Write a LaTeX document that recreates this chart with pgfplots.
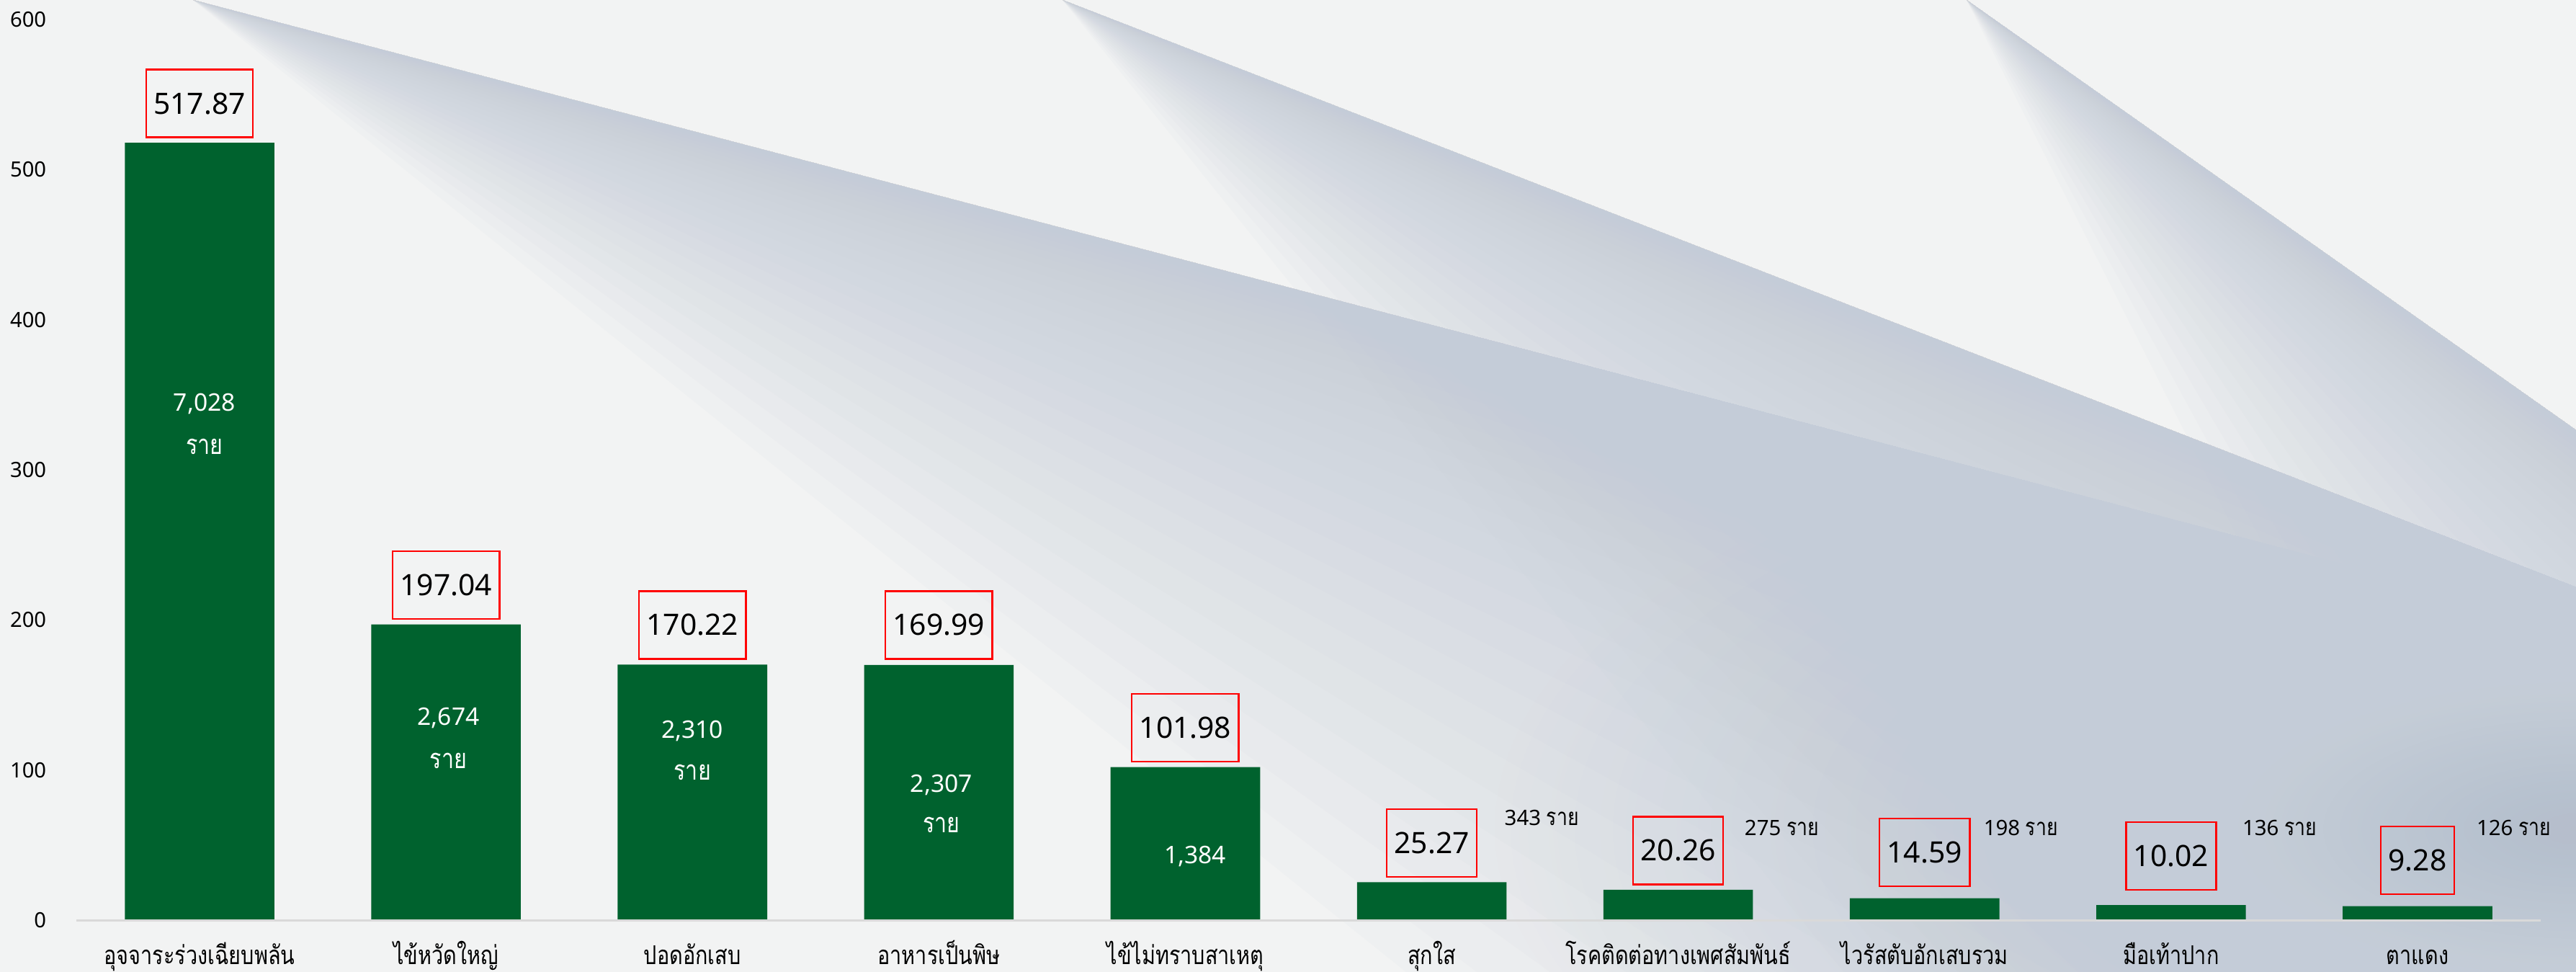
\documentclass[border=0pt]{standalone}
\usepackage{fontspec}
\setmainfont{Noto Sans}
\newfontfamily\thaic[Script=Thai,FakeStretch=0.8]{Loma}
\usepackage{pgfplots}
\pgfplotsset{compat=1.18}
\usetikzlibrary{fadings}

\definecolor{bgc}{HTML}{F2F3F3}
\definecolor{beam}{HTML}{C4CCD8}
\definecolor{deep}{HTML}{A2B0C2}
\definecolor{barc}{RGB}{0,98,46}
\definecolor{basec}{HTML}{D9D9D9}
\tikzfading[name=glow, inner color=transparent!0, outer color=transparent!100]

\begin{document}
\begin{tikzpicture}
% background, in pixel units of the reference (origin top left)
\begin{scope}[x=0.25pt,y=-0.25pt]
  \clip (0,0) rectangle (3576,1349);
  \fill[bgc] (0,0) rectangle (3576,1349);
  % dark corner below the first beam edge
  \begin{scope}
    \clip (268,0) -- (4000,979) -- (4000,1400) -- (-10,1400) -- (-10,0) -- cycle;
    \fill[deep, path fading=glow, opacity=0.8] (3576,1150) ellipse [x radius=1500, y radius=650];
  \end{scope}
  % three light beams: sharp edge, soft fade below it
  \foreach \k in {1,...,30}{
    \pgfmathsetmacro\a{14.7+24*(\k/30)^2}
    \fill[beam, opacity=0.065] (268,0) -- +(14.7:6000) -- +(\a:6000) -- cycle;
    \pgfmathsetmacro\b{21.2+30*(\k/30)^2}
    \fill[beam, opacity=0.065] (1475,0) -- +(21.2:6000) -- +(\b:6000) -- cycle;
    \pgfmathsetmacro\c{35.2+28*(\k/30)^2}
    \fill[beam, opacity=0.065] (2730,0) -- +(35.2:6000) -- +(\c:6000) -- cycle;
  }
\end{scope}

\begin{axis}[
    at={(26.5pt,-319.25pt)}, anchor=south west,
    scale only axis, width=855.25pt, height=312.5pt,
    xmin=-0.5, xmax=9.5, ymin=0, ymax=600,
    axis line style={draw=none},
    major tick length=0pt,
    ytick={0,100,...,600},
    xtick={0,...,9},
    xticklabels={อุจจาระร่วงเฉียบพลัน,ไข้หวัดใหญ่,ปอดอักเสบ,อาหารเป็นพิษ,ไข้ไม่ทราบสาเหตุ,สุกใส,โรคติดต่อทางเพศสัมพันธ์,ไวรัสตับอักเสบรวม,มือเท้าปาก,ตาแดง},
    /pgf/number format/assume math mode=true,
    yticklabel style={font=\fontsize{7.3}{8}\selectfont, anchor=east, inner sep=0pt, xshift=-10.25pt},
    xticklabel style={font=\thaic\fontsize{9}{10}\selectfont, anchor=base, inner sep=0pt, yshift=-15.25pt},
    clip=false,
]
\addplot[ybar, bar width=51.9pt, fill=barc, draw=none] coordinates {
 (0,517.87) (1,197.04) (2,170.22) (3,169.99) (4,101.98)
 (5,25.27) (6,20.26) (7,14.59) (8,10.02) (9,9.28)
};
\draw[basec, line width=0.75pt] (axis cs:-0.5,0) -- (axis cs:9.5,0);

% boxed values
\tikzset{vbox/.style={draw=red, line width=0.6pt, inner xsep=2.6pt, minimum height=23.5pt, anchor=south, font=\fontsize{10.2}{12}\selectfont}}
\node[vbox] at (axis cs:0,520.9) {517.87};
\node[vbox] at (axis cs:1,200.2) {197.04};
\node[vbox] at (axis cs:2,173.5) {170.22};
\node[vbox] at (axis cs:3,173.5) {169.99};
\node[vbox] at (axis cs:4,105.1) {101.98};
\node[vbox] at (axis cs:5,28.3) {25.27};
\node[vbox] at (axis cs:6,23.2) {20.26};
\node[vbox] at (axis cs:7,22.1) {14.59};
\node[vbox] at (axis cs:8,19.7) {10.02};
\node[vbox] at (axis cs:9,16.8) {9.28};

% case counts inside bars
\tikzset{wnum/.style={text=white, font=\fontsize{8.4}{10}\selectfont},
         wthai/.style={text=white, font=\thaic\fontsize{9.5}{10}\selectfont}}
\node[wnum] at (axis cs:0.02,343.8) {7,028};
\node[wthai] at (axis cs:0.02,315.4) {ราย};
\node[wnum] at (axis cs:1.01,134.7) {2,674};
\node[wthai] at (axis cs:1.01,106.2) {ราย};
\node[wnum] at (axis cs:2,125.9) {2,310};
\node[wthai] at (axis cs:2,98.5) {ราย};
\node[wnum] at (axis cs:3.01,89.8) {2,307};
\node[wthai] at (axis cs:3.01,63.5) {ราย};
\node[wnum] at (axis cs:4.04,42.7) {1,384};

% case counts beside small bars
\tikzset{cnt/.style={font=\fontsize{7.35}{9}\selectfont}}
\node[cnt] at (axis cs:5.446,68) {343 {\thaic\fontsize{8.3}{9}\selectfont ราย}};
\node[cnt] at (axis cs:6.42,61.3) {275 {\thaic\fontsize{8.3}{9}\selectfont ราย}};
\node[cnt] at (axis cs:7.39,61.3) {198 {\thaic\fontsize{8.3}{9}\selectfont ราย}};
\node[cnt] at (axis cs:8.44,61.3) {136 {\thaic\fontsize{8.3}{9}\selectfont ราย}};
\node[cnt] at (axis cs:9.39,61.3) {126 {\thaic\fontsize{8.3}{9}\selectfont ราย}};
\end{axis}

\pgfresetboundingbox
\useasboundingbox (0,0) rectangle (894pt,-337.25pt);
\end{tikzpicture}
\end{document}
